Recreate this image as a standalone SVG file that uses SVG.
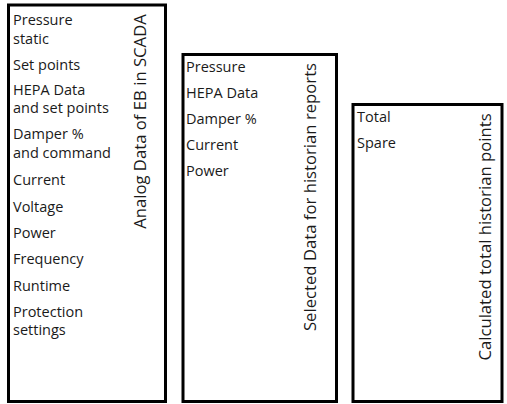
<svg xmlns="http://www.w3.org/2000/svg" width="507" height="404" viewBox="0 0 507 404">
  <style>
    .box { fill: #ffffff; stroke: #000000; stroke-width: 3; }
    .item { font-family: "Open Sans", "Liberation Sans", sans-serif; font-size: 14.5px; fill: #1a1a1a; }
    .title { font-family: "Open Sans", "Liberation Sans", sans-serif; font-size: 16.7px; fill: #1a1a1a; text-anchor: middle; }
  </style>
  <rect width="507" height="404" fill="#ffffff"/>

  <!-- Column 1: analog data -->
  <g id="analog-data">
    <rect class="box" x="8.5" y="5" width="157" height="396.5"/>
    <text class="item" x="13" y="25">Pressure</text>
    <text class="item" x="13" y="44">static</text>
    <text class="item" x="13" y="70">Set points</text>
    <text class="item" x="13" y="95">HEPA Data</text>
    <text class="item" x="13" y="113">and set points</text>
    <text class="item" x="13" y="139">Damper %</text>
    <text class="item" x="13" y="158">and command</text>
    <text class="item" x="13" y="185">Current</text>
    <text class="item" x="13" y="212">Voltage</text>
    <text class="item" x="13" y="238">Power</text>
    <text class="item" x="13" y="264">Frequency</text>
    <text class="item" x="13" y="291">Runtime</text>
    <text class="item" x="13" y="317">Protection</text>
    <text class="item" x="13" y="335">settings</text>
    <text class="title" transform="translate(146,121.5) rotate(-90)">Analog Data of EB in SCADA</text>
  </g>

  <!-- Column 2: selected data -->
  <g id="selected-data">
    <rect class="box" x="183" y="54.5" width="153.5" height="347"/>
    <text class="item" x="186" y="72">Pressure</text>
    <text class="item" x="186" y="98">HEPA Data</text>
    <text class="item" x="186" y="124">Damper %</text>
    <text class="item" x="186" y="150">Current</text>
    <text class="item" x="186" y="176">Power</text>
    <text class="title" transform="translate(316,197) rotate(-90)">Selected Data for historian reports</text>
  </g>

  <!-- Column 3: calculated totals -->
  <g id="calculated-points">
    <rect class="box" x="353" y="104.5" width="149" height="297"/>
    <text class="item" x="357" y="122">Total</text>
    <text class="item" x="357" y="148">Spare</text>
    <text class="title" transform="translate(491,237) rotate(-90)">Calculated total historian points</text>
  </g>

  <g id="connectors"/>
</svg>
